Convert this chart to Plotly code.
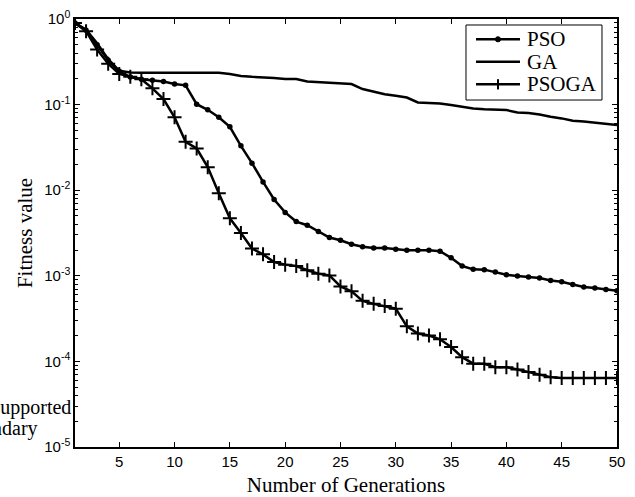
import plotly.graph_objects as go

generations = list(range(1, 51))

pso = [0.90, 0.74, 0.50, 0.33, 0.245, 0.21, 0.198, 0.192, 0.186, 0.174,
       0.168, 0.101, 0.087, 0.071, 0.055, 0.033, 0.0207, 0.0125, 0.0078, 0.0055,
       0.0043, 0.0039, 0.0033, 0.0028, 0.0026, 0.00234, 0.00219, 0.00211, 0.00211, 0.00204,
       0.00199, 0.00199, 0.00199, 0.00194, 0.00162, 0.0013, 0.00119, 0.00118, 0.00111, 0.00103,
       0.000995, 0.00097, 0.00094, 0.00088, 0.00085, 0.00079, 0.00074, 0.00072, 0.00069, 0.00067]

ga = [0.90, 0.75, 0.52, 0.34, 0.248, 0.237, 0.236, 0.236, 0.236, 0.236,
      0.236, 0.236, 0.236, 0.236, 0.228, 0.216, 0.211, 0.21, 0.205, 0.199,
      0.199, 0.186, 0.183, 0.18, 0.174, 0.174, 0.152, 0.141, 0.132, 0.127,
      0.121, 0.106, 0.105, 0.103, 0.099, 0.0945, 0.0903, 0.088, 0.088, 0.0863,
      0.081, 0.080, 0.0767, 0.072, 0.069, 0.0647, 0.0633, 0.0612, 0.0591, 0.0576]

psoga = [0.90, 0.72, 0.44, 0.30, 0.228, 0.211, 0.198, 0.155, 0.116, 0.071,
         0.0367, 0.0307, 0.0186, 0.0092, 0.0047, 0.00317, 0.00208, 0.00178, 0.00145, 0.00135,
         0.0013, 0.00116, 0.00106, 0.00101, 0.00075, 0.00066, 0.00051, 0.00047, 0.000443, 0.000413,
         0.000257, 0.000212, 0.000201, 0.000181, 0.000147, 0.000112, 0.000094, 0.000094, 0.0000857, 0.0000857,
         0.0000806, 0.000075, 0.0000698, 0.0000655, 0.0000638, 0.0000638, 0.0000638, 0.0000638, 0.0000638, 0.0000638]

series_names = ["PSO", "GA", "PSOGA"]
x_ticks = [5, 10, 15, 20, 25, 30, 35, 40, 45, 50]
y_exponents = [-5, -4, -3, -2, -1, 0]

y_tickvals = [10.0 ** p for p in y_exponents]
y_ticktext = ["10<sup>%d</sup>" % p for p in y_exponents]
y_minor = [k * 10.0 ** p for p in y_exponents[:-1] for k in range(2, 10)]

serif = "Liberation Serif, Times New Roman, serif"
sans = "Liberation Sans, Arial, sans-serif"

fig = go.Figure()
fig.add_trace(go.Scatter(
    x=generations, y=pso, name=series_names[0], mode="lines+markers",
    line=dict(color="black", width=2.5),
    marker=dict(symbol="circle", size=5.5, color="black"),
))
fig.add_trace(go.Scatter(
    x=generations, y=ga, name=series_names[1], mode="lines",
    line=dict(color="black", width=2.5),
))
fig.add_trace(go.Scatter(
    x=generations, y=psoga, name=series_names[2], mode="lines+markers",
    line=dict(color="black", width=2.5),
    marker=dict(symbol="cross-thin", size=10, color="black",
                line=dict(color="black", width=2)),
))

axis_common = dict(
    showline=True, linecolor="black", linewidth=1.5, mirror="allticks",
    ticks="inside", ticklen=5, tickcolor="black", tickwidth=1,
    showgrid=False, zeroline=False, automargin=False,
    tickfont=dict(family=sans, size=15, color="black"),
)

fig.update_xaxes(
    range=[1, 50], tickvals=x_ticks,
    title=dict(text="Number of Generations", font=dict(family=serif, size=21, color="black"), standoff=9),
    **axis_common,
)
fig.update_yaxes(
    type="log", range=[-5, 0], tickvals=y_tickvals, ticktext=y_ticktext,
    minor=dict(tickvals=y_minor, ticks="inside", ticklen=3, tickcolor="black", showgrid=False),
    title=dict(text="Fitness value", font=dict(family=serif, size=21, color="black"), standoff=6),
    **axis_common,
)

# legend drawn by hand so the rows sit as tight as in the reference
lx0, lx1 = 0.7214, 0.9723
ly0, ly1 = 0.8107, 0.986
row_y = [0.9526, 0.9002, 0.8474]
sx0, sx1, sxm = 0.7399, 0.821, 0.7804
fig.add_shape(type="rect", xref="paper", yref="paper", x0=lx0, x1=lx1, y0=ly0, y1=ly1,
              line=dict(color="black", width=1), fillcolor="white", layer="above")
for name, ry in zip(series_names, row_y):
    fig.add_shape(type="line", xref="paper", yref="paper", x0=sx0, x1=sx1, y0=ry, y1=ry,
                  line=dict(color="black", width=2.5), layer="above")
    fig.add_annotation(text=name, xref="paper", yref="paper", x=0.8300, y=ry,
                       xanchor="left", yanchor="middle", showarrow=False,
                       font=dict(family=serif, size=21, color="black"))
# PSO dot
fig.add_shape(type="circle", xref="paper", yref="paper",
              x0=sxm - 0.0048, x1=sxm + 0.0048, y0=row_y[0] - 0.006, y1=row_y[0] + 0.006,
              line=dict(color="black", width=1), fillcolor="black", layer="above")
# PSOGA plus
fig.add_shape(type="line", xref="paper", yref="paper", x0=sxm, x1=sxm,
              y0=row_y[2] - 0.012, y1=row_y[2] + 0.012,
              line=dict(color="black", width=2), layer="above")

# clipped label from a neighbouring figure at the left edge
fig.add_annotation(text="Unsupported", xref="paper", yref="paper", x=-0.004, y=0.093,
                   xanchor="right", yanchor="middle", showarrow=False,
                   font=dict(family=serif, size=20, color="black"))
fig.add_annotation(text="boundary", xref="paper", yref="paper", x=-0.064, y=0.043,
                   xanchor="right", yanchor="middle", showarrow=False,
                   font=dict(family=serif, size=20, color="black"))

fig.update_layout(
    width=635, height=497,
    margin=dict(l=75, r=18, t=19, b=50, autoexpand=False),
    paper_bgcolor="white", plot_bgcolor="white",
    showlegend=False,
)

fig.write_html("out.html", config={"displayModeBar": False},
               post_script="document.body.style.margin='0';")
